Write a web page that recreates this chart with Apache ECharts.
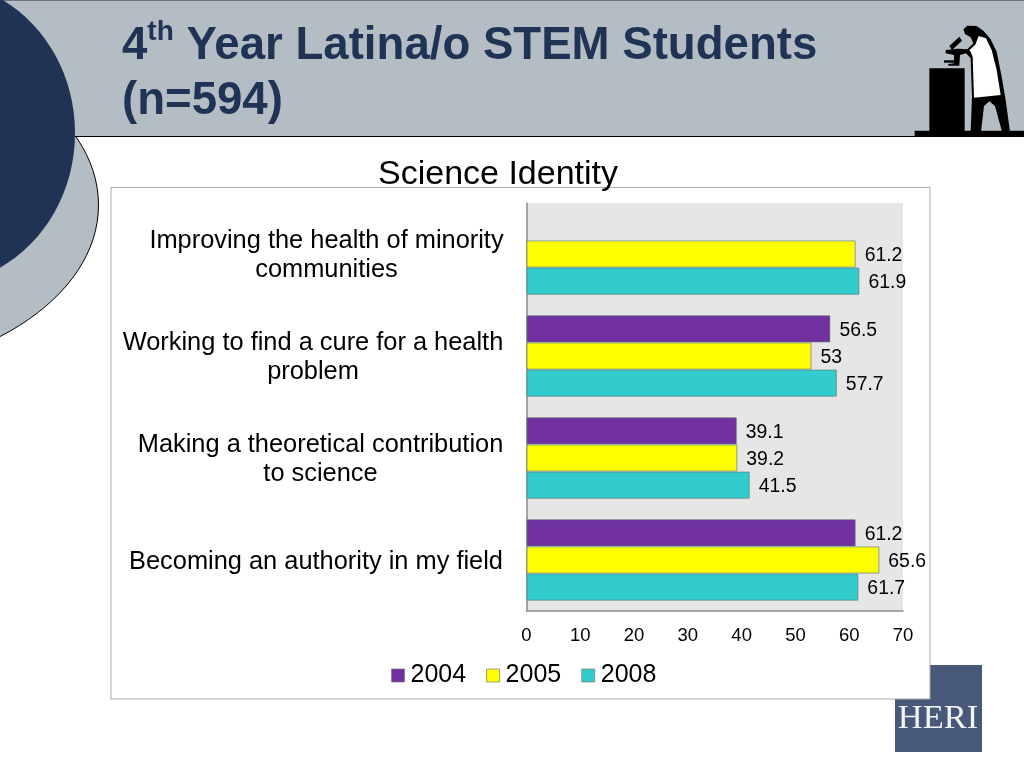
<!DOCTYPE html>
<html><head><meta charset="utf-8">
<style>html,body{margin:0;padding:0;background:#fff}#c{width:1024px;height:768px}</style>
<script src="https://cdn.jsdelivr.net/npm/echarts@6/dist/echarts.min.js"></script>
</head><body><div id="c"></div>
<script>
const categories = [
  "Improving the health of minority\ncommunities",
  "Working to find a cure for a health\nproblem",
  "Making a theoretical contribution\nto science",
  "Becoming an authority in my field"
];
const labelWidths = [356, 383, 368, 377];
const values2004 = [null, 56.5, 39.1, 61.2];
const values2005 = [61.2, 53, 39.2, 65.6];
const values2008 = [61.9, 57.7, 41.5, 61.7];
const seriesNames = ["2004", "2005", "2008"];
const seriesColors = ["#7030a0", "#ffff00", "#33cccc"];

const FONT = '"Liberation Sans", Arial, sans-serif';
const NAVY = "#1f3354", SLATE = "#b4bcc4";

const fig = pts => pts.map(p => [p[0] / 3 + 880, p[1] / 3]);
const poly = (pts, fill, z) => ({type: "polygon", z: z, silent: true, shape: {points: fig(pts)}, style: {fill: fill}});

const rich = {};
labelWidths.forEach((w, i) => {
  rich["c" + i] = {width: w, align: "center", fontFamily: FONT, fontSize: 25.4, lineHeight: 29.5, color: "#000", padding: [3, 0, 0, 0]};
});

const valueSeries = [values2004, values2005, values2008].map((d, i) => ({
  name: seriesNames[i], type: "bar", data: d,
  barGap: 0, barCategoryGap: "20.2%",
  itemStyle: {color: seriesColors[i], borderColor: "rgba(90,120,120,0.65)", borderWidth: 1},
  label: {show: true, position: "right", distance: 9, offset: [0, 1.5], color: "#000", fontFamily: FONT, fontSize: 19.4},
  emphasis: {disabled: true}
}));

const chart = echarts.init(document.getElementById("c"), null, {renderer: "canvas"});
chart.setOption({
  animation: false,
  backgroundColor: "#fff",
  title: [
    {
      left: 122, top: 18.5, z: 8, padding: 0,
      text: "{a|4}{s|th}{a| Year Latina/o STEM Students}\n{a|(n=594)}",
      textStyle: {rich: {
        a: {fontFamily: FONT, fontWeight: "bold", fontSize: 45.6, lineHeight: 55, color: NAVY},
        s: {fontFamily: FONT, fontWeight: "bold", fontSize: 28, lineHeight: 31, color: NAVY, verticalAlign: "top"}
      }}
    },
    {
      left: 498, top: 158, textAlign: "center", z: 8, padding: 0,
      text: "Science Identity",
      textStyle: {fontFamily: FONT, fontWeight: "normal", fontSize: 34, color: "#000"}
    }
  ],
  legend: {
    data: seriesNames, left: 391, top: 663, padding: 0, itemWidth: 13, itemHeight: 13, itemGap: 20,
    icon: "rect", selectedMode: false,
    itemStyle: {borderColor: "rgba(120,120,120,0.7)", borderWidth: 1},
    textStyle: {fontFamily: FONT, fontSize: 25, color: "#000", padding: [0, 0, 0, 1]}
  },
  grid: {
    left: 526.5, top: 203, width: 376.5, height: 408,
    show: true, backgroundColor: "#e6e6e6", borderWidth: 0, containLabel: false
  },
  xAxis: {
    type: "value", min: 0, max: 70, interval: 10,
    splitLine: {show: false}, axisTick: {show: false},
    axisLine: {show: true, lineStyle: {color: "#8c8c8c", width: 1.5}},
    axisLabel: {color: "#000", fontFamily: FONT, fontSize: 18.5, margin: 15}
  },
  yAxis: {
    type: "category", data: categories, inverse: true,
    axisTick: {show: false},
    axisLine: {show: true, lineStyle: {color: "#8c8c8c", width: 1.5}},
    axisLabel: {
      margin: 22, interval: 0, align: "right", rich: rich,
      formatter: (v) => {
        const i = categories.indexOf(v);
        return v.split("\n").map(l => "{c" + i + "|" + l + "}").join("\n");
      }
    }
  },
  series: valueSeries,
  graphic: {elements: [
    // lower pale disc, slide header, navy disc
    {type: "ellipse", z: -9, silent: true, shape: {cx: -170, cy: 205, rx: 268.5, ry: 170}, style: {fill: SLATE, stroke: "#000", lineWidth: 1}},
    {type: "rect", z: -8, silent: true, shape: {x: 0, y: 0, width: 1024, height: 136}, style: {fill: SLATE}},
    {type: "rect", z: -8, silent: true, shape: {x: 0, y: 0, width: 1024, height: 1}, style: {fill: "#6d7580"}},
    {type: "rect", z: -8, silent: true, shape: {x: 0, y: 136, width: 1024, height: 1}, style: {fill: "#000"}},
    {type: "ellipse", z: -7, silent: true, shape: {cx: -65, cy: 133, rx: 140, ry: 152}, style: {fill: NAVY}},
    // HERI logo
    {type: "rect", z: -6, silent: true, shape: {x: 895, y: 665, width: 87, height: 87}, style: {fill: "#47587a"}},
    {type: "text", z: -6, silent: true, style: {x: 938, y: 719, text: "HERI", align: "center", verticalAlign: "middle",
      fill: "#f2f4f7", font: '34.5px "Liberation Serif", serif'}},
    // chart frame
    {type: "rect", z: -5, silent: true, shape: {x: 111, y: 187.5, width: 819, height: 511.5}, style: {fill: "#fff", stroke: "#ababab", lineWidth: 1}},
    // scientist figure
    poly([[104,392],[432,392],[432,408],[104,408]], "#000", -4),
    poly([[148,205],[254,205],[254,395],[148,395]], "#000", -4),
    poly([[250,88],[262,77],[290,78],[310,92],[332,118],[350,155],[364,225],[377,300],[390,395],[366,395],[345,318],[328,304],[312,318],[303,395],[272,395],[276,290],[272,175],[258,160],[240,165],[238,197],[205,197],[205,192],[222,190],[222,165],[197,160],[197,150],[235,146],[262,148],[280,130],[272,112],[255,102]], "#000", -4),
    poly([[208,138],[238,110],[246,122],[216,150]], "#000", -4),
    poly([[192,181],[230,181],[230,188],[192,188]], "#000", -4),
    poly([[268,150],[286,134],[296,108],[318,115],[335,150],[350,210],[362,285],[282,293],[278,170],[272,156]], "#fff", -3)
  ]}
});
</script></body></html>
